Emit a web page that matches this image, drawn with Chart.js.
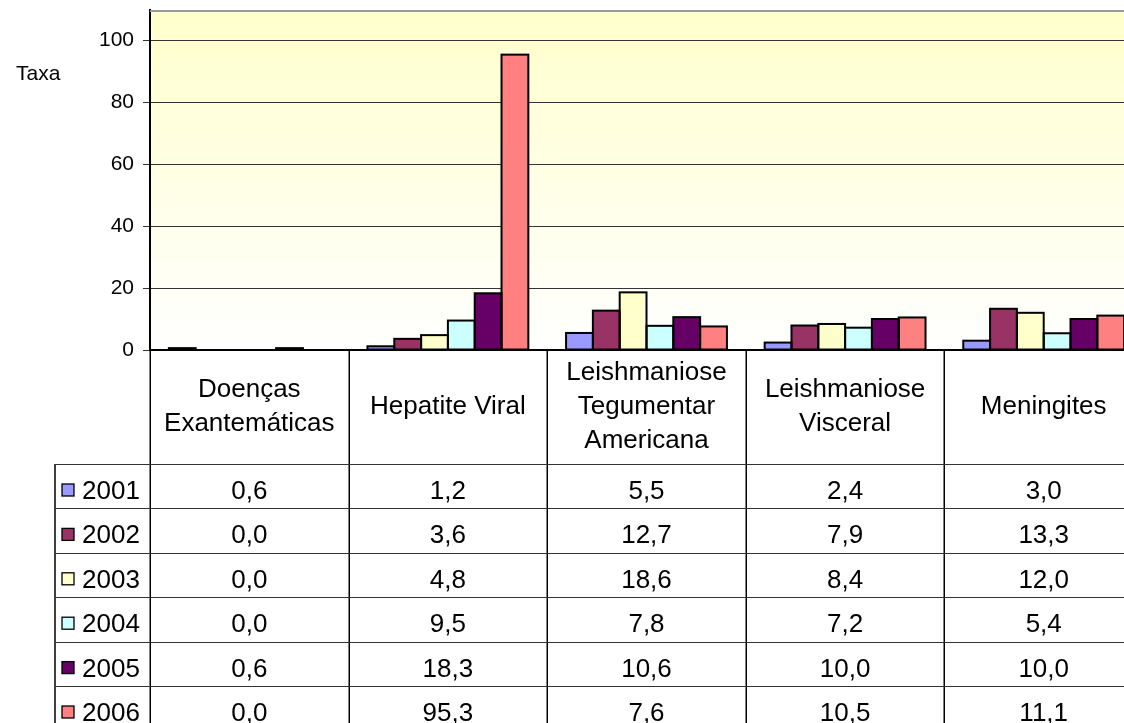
<!DOCTYPE html>
<html><head><meta charset="utf-8">
<script src="https://cdn.jsdelivr.net/npm/chart.js@4/dist/chart.umd.min.js"></script>
<style>html,body{margin:0;padding:0;overflow:hidden;background:#fff;width:1124px;height:723px}canvas{display:block}</style>
</head><body>
<canvas id="c" width="1150" height="723"></canvas>
<script>
const categories = [
  ['Doenças', 'Exantemáticas'],
  ['Hepatite Viral'],
  ['Leishmaniose', 'Tegumentar', 'Americana'],
  ['Leishmaniose', 'Visceral'],
  ['Meningites']
];
const seriesNames = ['2001', '2002', '2003', '2004', '2005', '2006'];
const values2001 = [0.6, 1.2, 5.5, 2.4, 3.0];
const values2002 = [0.0, 3.6, 12.7, 7.9, 13.3];
const values2003 = [0.0, 4.8, 18.6, 8.4, 12.0];
const values2004 = [0.0, 9.5, 7.8, 7.2, 5.4];
const values2005 = [0.6, 18.3, 10.6, 10.0, 10.0];
const values2006 = [0.0, 95.3, 7.6, 10.5, 11.1];
const seriesValues = [values2001, values2002, values2003, values2004, values2005, values2006];
const seriesColors = ['#9999FF', '#993366', '#FFFFCC', '#CCFFFF', '#660066', '#FF8080'];
const yTicks = [0, 20, 40, 60, 80, 100];
const yMax = 109.7;
const axisTitle = 'Taxa';

const FONT = '"Liberation Sans", Arial, sans-serif';

const bgPlugin = {
  id: 'bg',
  beforeDraw(chart) {
    const { ctx, chartArea: a } = chart;
    const g = ctx.createLinearGradient(0, a.top, 0, a.bottom);
    g.addColorStop(0, '#FFFFCC');
    g.addColorStop(1, '#FFFFFF');
    ctx.save();
    ctx.fillStyle = g;
    ctx.fillRect(a.left, a.top, a.right - a.left, a.bottom - a.top);
    ctx.restore();
  }
};

const outlinePlugin = {
  id: 'outline',
  afterDatasetsDraw(chart) {
    const { ctx } = chart;
    ctx.save();
    ctx.strokeStyle = '#000';
    ctx.lineWidth = 2;
    chart.data.datasets.forEach((ds, di) => {
      const meta = chart.getDatasetMeta(di);
      meta.data.forEach((el, i) => {
        if (!ds.data[i]) return;
        const w = el.width;
        const x0 = el.x - w / 2;
        const top = Math.min(el.y, el.base);
        const h = Math.abs(el.base - el.y);
        ctx.strokeRect(x0, top, w, h);
      });
    });
    ctx.restore();
  }
};

const tablePlugin = {
  id: 'table',
  afterDraw(chart) {
    const { ctx, chartArea: a } = chart;
    const n = categories.length;
    const cw = (a.right - a.left) / n;
    const fmt = v => v.toFixed(1).replace('.', ',');
    ctx.save();
    ctx.strokeStyle = '#999999';
    ctx.lineWidth = 2;
    ctx.beginPath(); ctx.moveTo(a.left, a.top + 1); ctx.lineTo(a.right, a.top + 1); ctx.stroke();
    ctx.strokeStyle = '#000';
    ctx.lineWidth = 2;
    ctx.beginPath(); ctx.moveTo(a.left - 1, a.bottom); ctx.lineTo(a.right, a.bottom); ctx.stroke();

    const headerBottom = 464;
    const rowH = 44.4;
    const tableLeft = 55;
    const bottom = 723;
    ctx.lineWidth = 1.5;
    ctx.strokeStyle = '#000';
    for (let i = 0; i <= n; i++) {
      const x = Math.round(a.left + i * cw) + 0.25;
      ctx.beginPath(); ctx.moveTo(x, a.bottom); ctx.lineTo(x, bottom); ctx.stroke();
    }
    ctx.beginPath(); ctx.moveTo(tableLeft, headerBottom); ctx.lineTo(tableLeft, bottom); ctx.stroke();
    ctx.lineWidth = 1;
    ctx.strokeStyle = '#333';
    for (let r = 0; r <= seriesNames.length; r++) {
      const y = Math.round(headerBottom + r * rowH) + 0.5;
      ctx.beginPath(); ctx.moveTo(tableLeft, y); ctx.lineTo(a.right + 10, y); ctx.stroke();
    }
    ctx.fillStyle = '#000';
    ctx.font = '26px ' + FONT;
    ctx.textAlign = 'center';
    ctx.textBaseline = 'alphabetic';
    const lineH = 34;
    const capHalf = 9.2;
    categories.forEach((lines, i) => {
      const cx = a.left + (i + 0.5) * cw;
      lines.forEach((t, j) => {
        const cy = 404.5 + (j - (lines.length - 1) / 2) * lineH;
        ctx.fillText(t, cx, cy + capHalf);
      });
    });
    seriesNames.forEach((name, r) => {
      const top = headerBottom + r * rowH;
      const base = top + 35;
      ctx.fillStyle = seriesColors[r];
      ctx.fillRect(62, top + 20, 12, 12);
      ctx.strokeStyle = '#000';
      ctx.lineWidth = 1.3;
      ctx.strokeRect(62, top + 20, 12, 12);
      ctx.fillStyle = '#000';
      ctx.textAlign = 'left';
      ctx.fillText(name, 82, base);
      ctx.textAlign = 'center';
      seriesValues[r].forEach((v, i) => {
        const cx = a.left + (i + 0.5) * cw;
        ctx.fillText(fmt(v), cx, base);
      });
    });
    ctx.font = '21px ' + FONT;
    ctx.textAlign = 'left';
    ctx.fillText(axisTitle, 16, 80);
    ctx.restore();
  }
};

new Chart(document.getElementById('c'), {
  type: 'bar',
  data: {
    labels: categories.map(l => l.join(' ')),
    datasets: seriesNames.map((name, i) => ({
      label: name,
      data: seriesValues[i],
      backgroundColor: seriesColors[i],
      borderWidth: 0,
      categoryPercentage: 0.81,
      barPercentage: 1.0
    }))
  },
  options: {
    responsive: false,
    animation: false,
    devicePixelRatio: 1,
    layout: { padding: { top: 10, bottom: 373, left: 0, right: 7 } },
    plugins: { legend: { display: false }, tooltip: { enabled: false }, title: { display: false } },
    scales: {
      x: { type: 'category', display: false, offset: true },
      y: {
        min: 0,
        max: yMax,
        afterBuildTicks(scale) { scale.ticks = yTicks.map(v => ({ value: v })); },
        afterFit(scale) { scale.width = 150; scale.paddingTop = 0; scale.paddingBottom = 0; },
        ticks: { font: { family: FONT, size: 21 }, color: '#000', padding: 9 },
        grid: { color: '#333', lineWidth: 1, tickLength: 7, drawTicks: true },
        border: { display: true, color: '#000', width: 2 }
      }
    }
  },
  plugins: [bgPlugin, outlinePlugin, tablePlugin]
});
</script>
</body></html>
